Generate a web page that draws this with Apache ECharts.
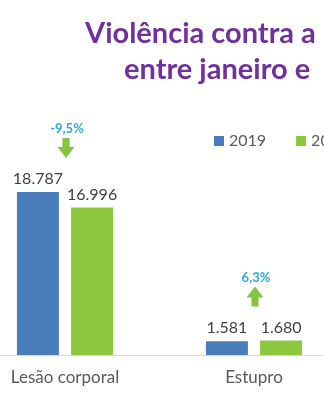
<!DOCTYPE html>
<html><head><meta charset="utf-8">
<script src="https://cdn.jsdelivr.net/npm/echarts@6/dist/echarts.min.js"></script>
<style>
html,body{margin:0;padding:0;width:324px;height:400px;overflow:hidden;background:#fff;}
#wrap{position:absolute;left:0;top:0;width:324px;height:400px;overflow:hidden;}
#chart{position:absolute;left:-40px;top:0;width:700px;height:400px;}
</style></head>
<body><div id="wrap"><div id="chart"></div></div>
<script>
const titleLines = ['Violência contra a', 'entre janeiro e'];
const categories = ['Lesão corporal', 'Estupro'];
const seriesNames = ['2019', '2020'];
const values2019 = [18787, 1581];
const values2020 = [16996, 1680];
const changeLabels = ['-9,5%', '6,3%'];
const changeUp = [false, true];

const fmt = v => v.toLocaleString('de-DE');
const downArrow = 'path://M5,0 L12,0 L12,9 L17,9 L8.5,20 L0,9 L5,9 Z';
const upArrow = 'path://M8.5,0 L17,11 L12,11 L12,20 L5,20 L5,11 L0,11 Z';

const mp = [];
categories.forEach((c, i) => {
  const top = Math.max(values2019[i], values2020[i]);
  mp.push({coord: [c, top], symbol: changeUp[i] ? upArrow : downArrow, symbolSize: [17, 20],
    symbolOffset: [1, -44], itemStyle: {color: '#84C441'}, label: {show: false}});
  mp.push({coord: [c, top], symbol: 'rect', symbolSize: 1, symbolOffset: [2, -63],
    itemStyle: {color: 'rgba(0,0,0,0)'},
    label: {show: true, position: 'inside', formatter: changeLabels[i], color: '#2EAAE1',
      fontSize: 13, fontWeight: 'bold', fontFamily: 'Lato'}});
});

const chart = echarts.init(document.getElementById('chart'), null, {renderer: 'canvas'});
chart.setOption({
  animation: false,
  title: [
    {text: titleLines[0], left: 120, top: 14, textStyle: {color: '#7030A0', fontSize: 29, fontWeight: 'bold', fontFamily: 'Lato'}},
    {text: titleLines[1], left: 159, top: 50, textStyle: {color: '#7030A0', fontSize: 29, fontWeight: 'bold', fontFamily: 'Lato'}}
  ],
  legend: {left: 249, top: 128, itemWidth: 10, itemHeight: 10, itemGap: 30, icon: 'rect',
    textStyle: {color: '#595959', fontSize: 16, fontFamily: 'Lato'}, data: seriesNames},
  grid: {left: 10.5, top: 181.5, width: 378, height: 173.5, containLabel: false},
  xAxis: {type: 'category', data: categories,
    axisLine: {lineStyle: {color: '#D9D9D9', width: 1}}, axisTick: {show: false},
    axisLabel: {color: '#595959', fontSize: 17, fontFamily: 'Lato', margin: 14}},
  yAxis: {type: 'value', min: 0, max: 20000, show: false, splitLine: {show: false}},
  series: [
    {name: seriesNames[0], type: 'bar', data: values2019, barWidth: 42, barGap: '29%',
      itemStyle: {color: '#4A7EBB'},
      label: {show: true, position: 'top', distance: 5, color: '#404040', fontSize: 16, fontFamily: 'Lato', formatter: p => fmt(p.value)}},
    {name: seriesNames[1], type: 'bar', data: values2020, barWidth: 42,
      itemStyle: {color: '#8DC63F'},
      label: {show: true, position: 'top', distance: 5, color: '#404040', fontSize: 16, fontFamily: 'Lato', formatter: p => fmt(p.value)}},
    {name: 'variação', type: 'scatter', data: [], symbolSize: 0, silent: true, markPoint: {data: mp}}
  ]
});
</script></body></html>
